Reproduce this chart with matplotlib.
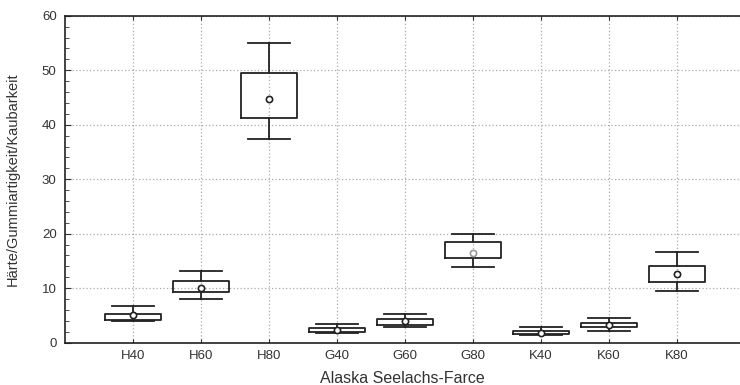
import numpy as np
import matplotlib
matplotlib.use("Agg")
import matplotlib.pyplot as plt
from matplotlib.ticker import MultipleLocator

plt.rcParams['font.family'] = ['Liberation Sans', 'DejaVu Sans']

labels = ['H40', 'H60', 'H80', 'G40', 'G60', 'G80', 'K40', 'K60', 'K80']
whis_lo = [4.0, 8.1, 37.3, 1.8, 2.8, 13.8, 1.4, 2.1, 9.4]
q1      = [4.2, 9.3, 41.3, 2.0, 3.2, 15.6, 1.5, 2.8, 11.1]
med     = [5.0, 10.1, 44.8, 2.4, 4.0, 16.5, 1.7, 3.2, 12.6]
q3      = [5.3, 11.4, 49.5, 2.6, 4.3, 18.5, 2.1, 3.6, 14.1]
whis_hi = [6.8, 13.2, 55.0, 3.4, 5.3, 20.0, 2.8, 4.6, 16.6]

stats = []
for i in range(len(labels)):
    stats.append(dict(label=labels[i], whislo=whis_lo[i], q1=q1[i], med=med[i],
                      q3=q3[i], whishi=whis_hi[i], fliers=[]))

fig = plt.figure(figsize=(7.4, 3.85), dpi=100)
ax = fig.add_axes([0.0878, 0.11, 0.9122, 0.849])

lc = '#222222'
pos = np.arange(1, len(labels) + 1)
ax.bxp(stats, positions=pos, widths=0.82, capwidths=0.62,
       showcaps=True, showfliers=False,
       boxprops=dict(color=lc, linewidth=1.3),
       whiskerprops=dict(color=lc, linewidth=1.3),
       capprops=dict(color=lc, linewidth=1.3),
       medianprops=dict(linewidth=0),
       zorder=3)
for i in range(len(labels)):
    ax.plot(pos[i], med[i], 'o', ms=4.5, mfc='white',
            mec='#999999' if labels[i] == 'G80' else lc, mew=1.2, zorder=4)

ax.set_xlim(0, 9.93)
ax.set_ylim(0, 60)
ax.yaxis.set_major_locator(MultipleLocator(10))
ax.yaxis.set_minor_locator(MultipleLocator(2))
ax.set_xticks(pos)
ax.set_xticklabels(labels)
ax.grid(True, which='major', linestyle=(0, (1, 1.8)), color='#aaaaaa', linewidth=0.9, zorder=0)
ax.tick_params(axis='both', which='both', direction='in', colors='#333333',
               labelsize=9.5, top=True)
ax.tick_params(axis='y', which='major', length=4, pad=6)
ax.tick_params(axis='y', which='minor', length=3)
ax.tick_params(axis='x', length=3, pad=5)
ax.spines['right'].set_visible(False)
for s in ['left', 'bottom', 'top']:
    ax.spines[s].set_color('#222222')
    ax.spines[s].set_linewidth(1.2)

ax.set_xlabel('Alaska Seelachs-Farce', fontsize=11.5, color='#333333', labelpad=7)
ax.set_ylabel('Härte/Gummiartigkeit/Kaubarkeit', fontsize=10.5, color='#333333', labelpad=16)

fig.savefig('out.png', dpi=100)
